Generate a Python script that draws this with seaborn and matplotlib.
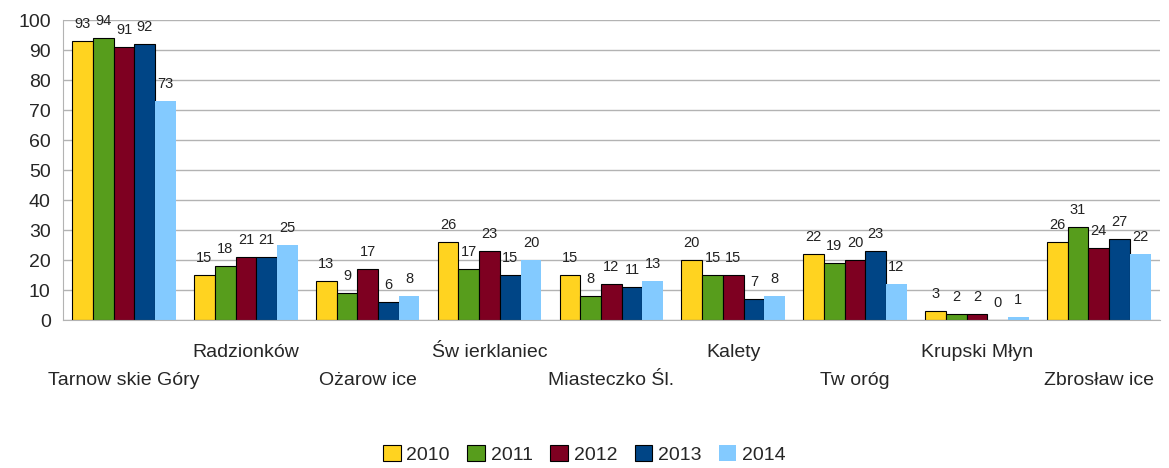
import numpy as np
import pandas as pd
import seaborn as sns
import matplotlib.pyplot as plt
from matplotlib.transforms import ScaledTranslation
from matplotlib.patches import Patch

gminy = ['Tarnow skie Góry', 'Radzionków', 'Ożarow ice', 'Św ierklaniec', 'Miasteczko Śl.',
         'Kalety', 'Tw oróg', 'Krupski Młyn', 'Zbrosław ice']
lata = ['2010', '2011', '2012', '2013', '2014']
v2010 = [93, 15, 13, 26, 15, 20, 22, 3, 26]
v2011 = [94, 18, 9, 17, 8, 15, 19, 2, 31]
v2012 = [91, 21, 17, 23, 12, 15, 20, 2, 24]
v2013 = [92, 21, 6, 15, 11, 7, 23, 0, 27]
v2014 = [73, 25, 8, 20, 13, 8, 12, 1, 22]
kolory = ['#ffd320', '#579d1c', '#7e0021', '#004586', '#83caff']

rows = []
for rok, vals in zip(lata, [v2010, v2011, v2012, v2013, v2014]):
    for g, v in zip(gminy, vals):
        rows.append({'gmina': g, 'rok': rok, 'wartosc': v})
df = pd.DataFrame(rows)

sns.set_style('white')
plt.rcParams['font.family'] = ['Liberation Sans', 'DejaVu Sans']

fig = plt.figure(figsize=(11.69, 4.68), dpi=100)
ax = fig.add_axes([0.054, 0.316, 0.938, 0.641])
sns.barplot(data=df, x='gmina', y='wartosc', hue='rok', palette=kolory, width=0.85,
            edgecolor='black', linewidth=0.8, saturation=1, ax=ax, legend=False)

# 2014 bars drawn without outline
for p in ax.containers[4]:
    p.set_edgecolor('none')
for c in ax.containers:
    ax.bar_label(c, padding=7, fontsize=10.5, color='#222222')

ax.set_ylim(0, 100)
ax.set_xlim(-0.5, 8.5)
ax.set_yticks(range(0, 101, 10))
ax.yaxis.grid(True, color='#b3b3b3', linewidth=1)
ax.set_axisbelow(True)
ax.set_xlabel('')
ax.set_ylabel('')
for s in ['top', 'right']:
    ax.spines[s].set_visible(False)
ax.spines['left'].set_color('#b3b3b3')
ax.spines['bottom'].set_color('#b3b3b3')
ax.tick_params(axis='y', length=6, color='#b3b3b3', labelsize=14, pad=3)
ax.set_xticks(np.arange(-0.5, 9, 1), minor=True)
ax.tick_params(axis='x', which='minor', length=12, color='#b3b3b3')
ax.tick_params(axis='x', which='major', length=0, labelsize=14, pad=17)

for i, lbl in enumerate(ax.get_xticklabels()):
    if i % 2 == 0:
        lbl.set_transform(lbl.get_transform() + ScaledTranslation(0, -0.28, fig.dpi_scale_trans))

handles = [Patch(facecolor=k, edgecolor='black' if i < 4 else 'none', linewidth=0.8)
           for i, k in enumerate(kolory)]
fig.legend(handles, lata, loc='lower center', bbox_to_anchor=(0.5, -0.028), ncol=5,
           frameon=False, fontsize=14, handlelength=0.9, handleheight=0.9,
           handletextpad=0.3, columnspacing=0.9)

fig.savefig('out.png', dpi=100)
